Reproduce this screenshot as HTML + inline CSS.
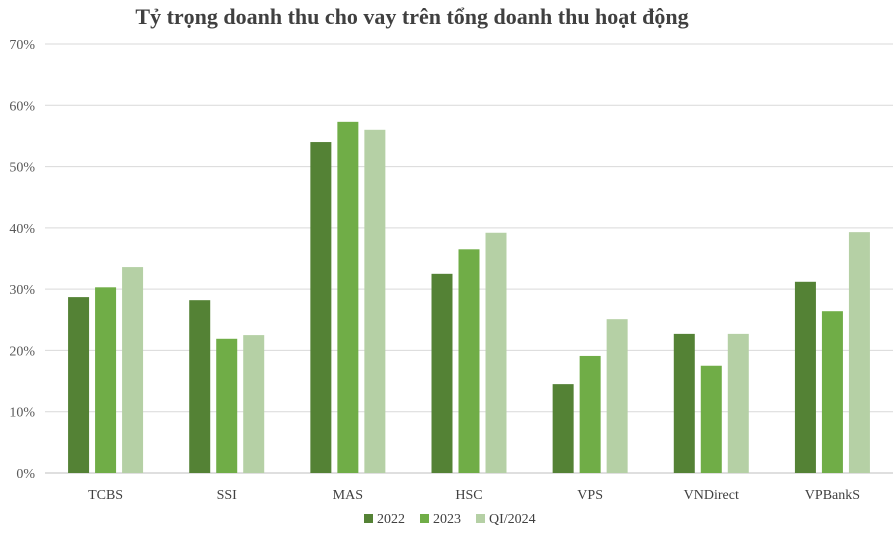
<!DOCTYPE html>
<html><head><meta charset="utf-8"><style>
body{margin:0;background:#fff;width:895px;height:535px;overflow:hidden}
svg text{font-family:"Liberation Serif",serif}
</style></head><body>
<svg id="chart" width="895" height="535" xmlns="http://www.w3.org/2000/svg">
<text x="412" y="24" text-anchor="middle" font-size="22" font-weight="bold" fill="#404040">Tỷ trọng doanh thu cho vay trên tổng doanh thu hoạt động</text>
<g id="grid"></g><g id="bars"></g><g id="xlabels"></g>
<g font-size="14" fill="#404040">
<rect x="364" y="514" width="9" height="9" fill="#548235"/><text x="377" y="523">2022</text>
<rect x="420" y="514" width="9" height="9" fill="#70ad47"/><text x="433" y="523">2023</text>
<rect x="476" y="514" width="9" height="9" fill="#b5d0a5"/><text x="489" y="523">QI/2024</text>
</g>
</svg>
<script>
const categories=["TCBS","SSI","MAS","HSC","VPS","VNDirect","VPBankS"];
const series2022=[28.7,28.2,54.0,32.5,14.5,22.7,31.2];
const series2023=[30.3,21.9,57.3,36.5,19.1,17.5,26.4];
const seriesQ1=[33.6,22.5,56.0,39.2,25.1,22.7,39.3];
const ticks=[0,10,20,30,40,50,60,70];
const NS="http://www.w3.org/2000/svg";
const x0=45,x1=893,yBase=473,yTop=44;
const y=v=>yBase-(v/70)*(yBase-yTop);
const band=(x1-x0)/categories.length;
const cx=i=>x0+band*(i+0.5);
function mk(t,a,p){const e=document.createElementNS(NS,t);for(const k in a)e.setAttribute(k,a[k]);p.appendChild(e);return e;}
const grid=document.getElementById('grid');
ticks.forEach(t=>{
 const l=mk('line',{x1:x0,x2:x1,y1:y(t),y2:y(t),stroke:t===0?'#bfbfbf':'#d9d9d9','stroke-width':1},grid);
 
 
 const tx=mk('text',{x:35,y:y(t)+5,'text-anchor':'end','font-size':14,fill:'#595959'},grid);
 tx.textContent=t+'%';
 
 
});
const bars=document.getElementById('bars');
const sets=[[series2022,'#548235','2022'],[series2023,'#70ad47','2023'],[seriesQ1,'#b5d0a5','q1-2024']];
const bw=21,gap=6;
categories.forEach((c,i)=>{
 sets.forEach((s,j)=>{
  const bx=cx(i)+(j-1)*(bw+gap)-bw/2;
  const r=mk('rect',{x:bx,y:y(s[0][i]),width:bw,height:yBase-y(s[0][i]),fill:s[1]},bars);
  
  
 });
 const t=mk('text',{x:cx(i),y:499,'text-anchor':'middle','font-size':14,fill:'#404040'},document.getElementById('xlabels'));
 t.textContent=c;
 
 
});
</script>
</body></html>
